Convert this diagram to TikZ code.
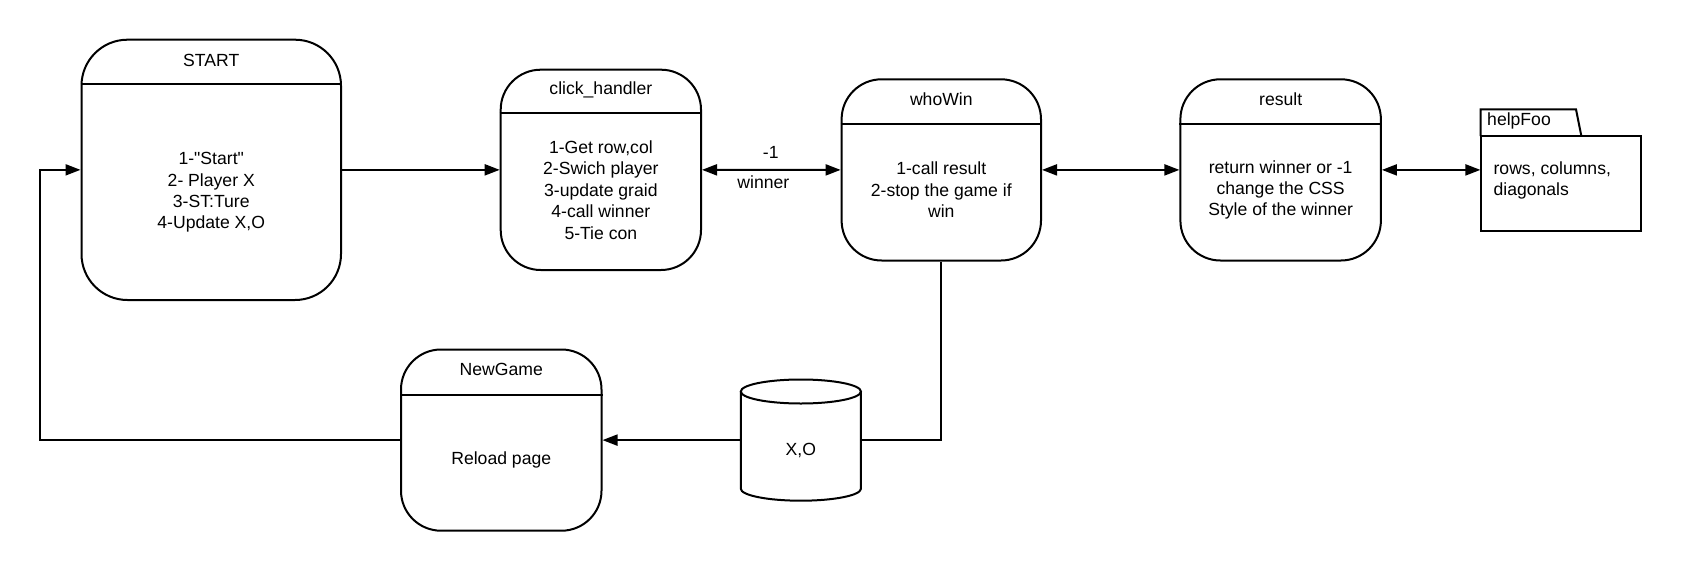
\documentclass[tikz,border=0pt]{standalone}
\usepackage{fontspec}
\setmainfont[Ligatures=TeXOff]{Liberation Sans}
\usetikzlibrary{arrows.meta}
\begin{document}
\begin{tikzpicture}[x=1pt,y=-1pt,
  every node/.style={font=\fontsize{17.6}{21.4}\selectfont, inner sep=0pt},
  statebox/.style={draw, line width=2pt, rectangle, rounded corners=40pt},
  txt/.style={align=center},
  ln/.style={line width=2pt},
  arr/.style={line width=2pt, -{Triangle[length=15pt,width=11pt]}},
  barr/.style={line width=2pt, {Triangle[length=15pt,width=11pt]}-{Triangle[length=15pt,width=11pt]}}]
\fill[white] (0,0) rectangle (1681,570);
\useasboundingbox (0,0) rectangle (1681,570);

% START
\node[statebox, rounded corners=46pt, minimum width=259.5pt, minimum height=260.3pt] (start) at (211.25,169.85) {};
\draw[ln] (start.west |- 0,83.6) -- (start.east |- 0,83.6);
\node[txt] (startT) at (211.25,60) {START};
\node[txt] (startB) at (211.25,192.5) {1-"Start"\\2- Player X\\3-ST:Ture\\4-Update X,O};

% click_handler
\node[statebox, minimum width=200.3pt, minimum height=200.3pt] (click) at (600.85,169.85) {};
\draw[ln] (click.west |- 0,112.6) -- (click.east |- 0,112.6);
\node[txt] (clickT) at (600.85,90) {click\_handler};
\node[txt] (clickB) at (600.85,190) {1-Get row,col\\2-Swich player\\3-update graid\\4-call winner\\5-Tie con};

% whoWin
\node[statebox, minimum width=199.4pt, minimum height=181.2pt] (who) at (941.3,169.9) {};
\draw[ln] (who.west |- 0,124.4) -- (who.east |- 0,124.4);
\node[txt] (whoT) at (941.3,99.7) {whoWin};
\node[txt] (whoB) at (941.3,190) {1-call result\\2-stop the game if\\win};

% result
\node[statebox, minimum width=200.5pt, minimum height=181.2pt] (res) at (1280.65,169.9) {};
\draw[ln] (res.west |- 0,124.4) -- (res.east |- 0,124.4);
\node[txt] (resT) at (1280.65,99.7) {result};
\node[txt] (resB) at (1280.65,190) {return winner or -1\\change the CSS\\Style of the winner};

% helpFoo package
\node[draw=none, minimum width=160.8pt, minimum height=94.3pt] (help) at (1561,183.35) {};
\draw[ln, line join=miter] (1480.6,136.2) -- (1480.6,109.4) -- (1576,109.4) -- (1581.4,136.2);
\draw[ln] (1480.6,136.2) rectangle (1641.4,230.5);
\node[anchor=west] (helpT) at (1487,121) {helpFoo};
\node[anchor=west, align=left] (helpB) at (1493.4,180.6) {rows, columns,\\diagonals};

% NewGame
\node[statebox, minimum width=200.5pt, minimum height=181.2pt] (ng) at (501.25,440.1) {};
\draw[ln] (ng.west |- 0,394.5) -- (ng.east |- 0,394.5);
\node[txt] (ngT) at (501.25,369.9) {NewGame};
\node[txt] (ngB) at (501.25,460) {Reload page};

% cylinder X,O
\node[minimum width=120.1pt, minimum height=121.2pt] (xo) at (800.85,440.1) {};
\draw[ln] (740.8,391.5) -- (740.8,488.7) arc[start angle=180, end angle=360, x radius=60.05, y radius=-12] -- (860.9,391.5);
\draw[ln] (800.85,391.5) ellipse[x radius=60.05, y radius=12];
\node[txt] (xoT) at (800.85,450) {X,O};

% connectors
\draw[arr] (start.east) -- (click.west);
\draw[barr] (click.east) -- (who.west);
\node (lm1) at (770.8,152.2) {-1};
\node (lwin) at (763.3,182.3) {winner};
\draw[barr] (who.east) -- (res.west);
\draw[barr] (res.east) -- (res.east -| help.west);
\draw[ln] (who.south) |- (xo.east);
\draw[arr] (xo.west) -- (ng.east);
\coordinate (lp) at (39.7,169.85);
\draw[arr] (ng.west) -| (lp) -- (start.west);
\end{tikzpicture}
\end{document}
